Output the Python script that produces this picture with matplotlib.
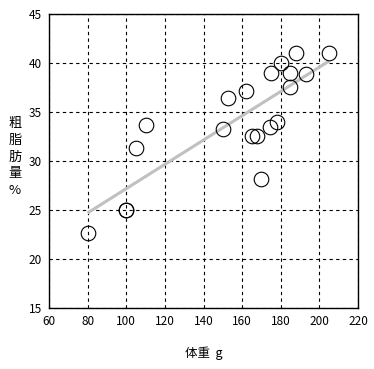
import matplotlib
matplotlib.use("Agg")
import matplotlib.pyplot as plt

plt.rcParams['font.family'] = ['Noto Sans CJK JP', 'DejaVu Sans']

weight = [80, 100, 100, 105, 110, 150, 152.5, 162, 165, 167.5, 170, 174.5, 178, 175, 180, 185, 185, 188, 193, 205]
fat = [22.7, 25.0, 25.0, 31.3, 33.7, 33.3, 36.4, 37.1, 32.6, 32.6, 28.2, 33.5, 34.0, 39.0, 40.0, 39.0, 37.6, 41.0, 38.9, 41.0]
trend_x = [80, 205]
trend_y = [24.7, 40.2]

xticks = [60, 80, 100, 120, 140, 160, 180, 200, 220]
yticks = [15, 20, 25, 30, 35, 40, 45]

fig = plt.figure(figsize=(3.74, 3.69), dpi=100)
ax = fig.add_axes([49/374, 1-308/369, (358-49)/374, (308-14)/369])

ax.plot(trend_x, trend_y, color='#c0c0c0', lw=2.2, solid_capstyle='butt', zorder=2)
ax.plot(weight, fat, linestyle='none', marker='o', markersize=10.5,
        markerfacecolor='none', markeredgecolor='black', markeredgewidth=0.8, zorder=3)

ax.set_xlim(60, 220)
ax.set_ylim(15, 45)
ax.set_xticks(xticks)
ax.set_yticks(yticks)
ax.tick_params(length=0, labelsize=8.5, pad=5)
ax.grid(True, color='black', linestyle=(0, (3, 3)), linewidth=0.8)
for s in ax.spines.values():
    s.set_linewidth(1.0)

ax.set_xlabel('体重  g', fontsize=9, labelpad=13)
fig.text(15/374, 1-157/369, '粗\n脂\n肪\n量\n%', fontsize=9.5, ha='center', va='center',
         linespacing=1.35)

fig.savefig('out.png', dpi=100)
